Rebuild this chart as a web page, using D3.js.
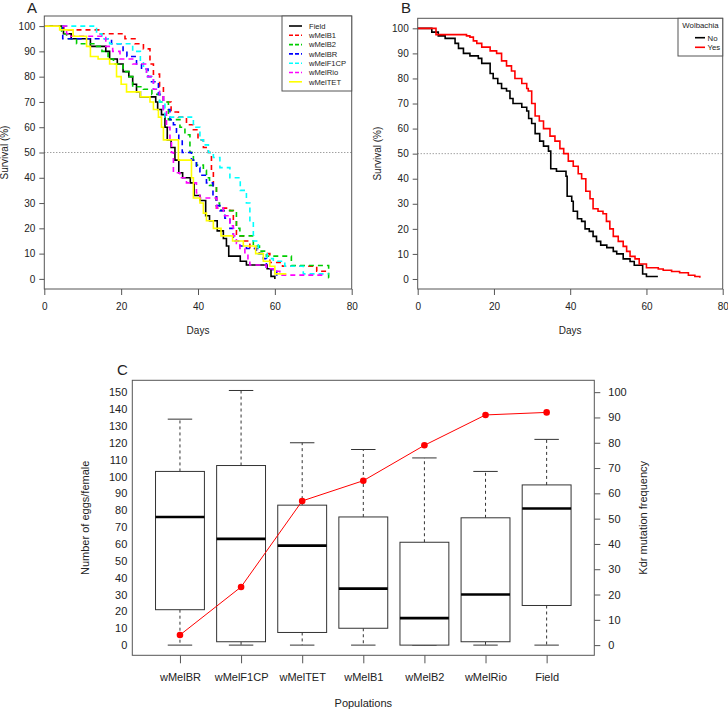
<!DOCTYPE html>
<html><head><meta charset="utf-8">
<script src="https://cdn.jsdelivr.net/npm/d3@7"></script>
<style>
body{margin:0;background:#fff;}
svg{display:block;font-family:"Liberation Sans",Arial,sans-serif;}
</style></head><body>
<svg id="c" width="728" height="710"></svg>
<script>
// ---------- DATA ----------
// Panel A: Kaplan-Meier steps [day, survival %]
const seriesNames = ["Field","wMelB1","wMelB2","wMelBR","wMelF1CP","wMelRio","wMelTET"];
const seriesColors = ["#000000","#FF0000","#00CD00","#0000FF","#00FFFF","#FF00FF","#FFFF00"];
const seriesDashed = [false,true,true,true,true,true,false];
const survField = [[0,100],[5,97],[7,95],[12,92],[16,90],[17,87],[19,85],[20.5,82],[22,80],[23,77],[24,74],[25,72],[29,70],[29.5,67],[30.5,65],[31.4,60],[32,55],[33,52],[34,47],[35,42],[36,40],[38,38],[39,33],[40.5,31],[42,25],[43,23],[45,19],[46.6,16],[47.4,13],[48,9],[51,7],[52.6,5.5],[58,4],[59,1],[60,0]];
const survB1 = [[0,100],[5,98.5],[14.5,97],[21,95],[23.6,93],[25.8,91],[27.5,85],[28.4,81],[30,76],[31,70],[33,66],[34.9,64],[37,61],[38.8,59],[40,55],[41.4,52],[42.7,50],[43.5,43],[44,37],[44.8,28],[48.3,27],[49.2,23],[50,17],[51.8,15],[53.5,12],[56,10],[58.7,6.5],[62,5],[70.9,3],[74.3,3]];
const survB2 = [[0,100],[4.5,97],[5.8,95],[8.4,93],[13.6,92],[15,90],[16.6,87],[18,85],[20.5,82],[22,80],[23,76],[25.8,75],[28,73],[30,70],[32.3,63],[35.3,60],[36.6,57],[37.9,50],[38.8,47],[39.6,45],[41.4,43],[42.2,40],[43,37],[44.8,30],[45.6,28],[46,27],[50,20],[50.9,17],[54.4,13],[56,11],[57.8,9],[64.3,5.3],[74,0.5],[74.2,0.5]];
const survBR = [[0,100],[4.8,95],[17.5,93],[20.5,90],[21.5,88],[24,85],[25.3,83],[27,80],[27.9,78],[29.7,73],[31,67],[32.7,63],[33.6,61],[34.4,58],[35,55],[35.9,50],[38.3,47],[39.6,44],[40.5,41],[42.2,38],[43.9,33],[44.8,29],[45.7,27],[47,24],[48.3,20],[49.2,15],[50.9,13],[52.6,12],[55.2,10],[57,8],[57.8,4],[59.5,3],[60.5,1],[60.7,1]];
const survF1CP = [[0,100],[13.6,97],[15,95],[17,93],[23,90],[25,86],[25.8,83],[26.6,80],[28.4,75],[30,70],[31.4,64],[38.8,60],[40.5,55],[41.4,53],[42.7,50],[44,48],[45.7,44],[48.3,40],[51,35],[52.6,30],[53.5,23],[54.4,15],[55.7,10],[58,8],[59.6,7],[62.6,5],[67.4,2],[74,2]];
const survRio = [[0,100],[5.8,97],[6.5,96],[16,92],[17.8,90],[19.7,87],[23,85],[26.6,80],[28.4,75],[30,72],[31,67],[31.8,60],[32.7,55],[33.1,50],[33.6,42],[35.3,40],[37,38],[39.6,34],[40.5,32],[44.9,28],[46.6,25],[48.3,21],[49.2,17],[50,14],[50.9,12],[52.2,10],[53,8],[53.5,5.5],[57,5.5],[57.8,4],[59.6,3],[61.3,1.5],[73,1.5]];
const survTET = [[0,100],[4,98.5],[7.5,96],[11,92],[12,88],[14,87],[17,85],[18.8,80],[20,77],[21.4,74],[25,72],[27.5,70],[28.4,67],[29.7,64],[30.5,60],[31,55],[34.9,47],[38.3,40],[38.8,32],[40.5,30],[41.4,26],[42.2,23],[44,20],[46,17],[49,15],[51.8,13],[55,10],[57,7],[58.7,5],[60,2],[63,2]];
const survA = [survField,survB1,survB2,survBR,survF1CP,survRio,survTET];

// Panel B
const wolbNames = ["No","Yes"];
const wolbColors = ["#000000","#FF0000"];
const survNo = [[0,100],[3.7,98.5],[5.4,97],[7.2,96],[9.8,94],[10.7,92],[12,90],[13.7,89],[15.9,88],[16.8,86],[19,82],[19.8,80],[21,78],[22,76],[23.3,75],[24.2,72],[25,70],[27.3,68.5],[28.6,67],[29.1,64],[29.9,62],[30.8,58],[32,55],[33,53],[34.3,51],[34.9,44],[36.4,43],[38.9,41],[39.2,33],[40.4,31],[40.8,27],[41.9,24],[43,23],[43.9,20],[45,19],[46,17],[46.9,15],[48,13.5],[49.6,12.5],[51.3,11],[52.2,10],[53.9,8],[55.7,7],[56.8,5.5],[59,2],[60,1],[63,1]];
const survYes = [[0,100],[4.8,97.5],[12.8,97],[13.7,96.5],[14.6,95],[15.5,94],[16.8,92.5],[19,91],[20.7,90],[22,87],[23.3,85],[24.6,83],[25.5,80],[27.3,78],[28.6,76],[29,75],[29.9,70],[30.8,65],[31.9,63],[33,60],[34.7,57],[36,55],[37.3,52],[38.3,50],[39.5,47],[40.8,45],[42.1,42],[43,40],[44.1,35],[45.2,32],[46,28],[47.3,27],[48.6,26],[49.5,23],[50.4,20],[51.3,17],[52.6,15],[53.9,13],[54.8,11],[55.7,9],[57,8],[58.1,6],[60,4.5],[63.1,4],[64.4,3.5],[66.6,3],[68.7,2.5],[71,1.5],[72.7,1],[74,0.5]];
const survB = [survNo,survYes];

const dayTicks = [0,20,40,60,80];
const survTicks = [0,10,20,30,40,50,60,70,80,90,100];

// Panel C
const categories = ["wMelBR","wMelF1CP","wMelTET","wMelB1","wMelB2","wMelRio","Field"];
const eggMin = [0,0,0,0,0,0,0];
const eggQ1 = [21,2,7.5,10,0,2,23.5];
const eggMedian = [76,63,59,33.5,16,30,81];
const eggQ3 = [103,106.5,83,76,61,75.5,95];
const eggMax = [134,151,120,116,111,103,122];
const kdrFreq = [4,23,57,65,79,91,92];
const eggTicks = d3.range(0,151,10);
const kdrTicks = d3.range(0,101,10);

// ---------- DRAW ----------
const svg = d3.select("#c");
const TXT = "#222", BOX = "#555";

function survPanel(o){
  const g = svg.append("g");
  const x = d3.scaleLinear().domain([0,80]).range([o.left,o.right]);
  const y = d3.scaleLinear().domain([-4,104]).range([o.bottom,o.top]);
  const ax = g.append("g").attr("transform",`translate(0,${o.bottom})`)
    .call(d3.axisBottom(x).tickValues(dayTicks).tickSize(6).tickPadding(8));
  const ay = g.append("g").attr("transform",`translate(${o.left},0)`)
    .call(d3.axisLeft(y).tickValues(survTicks).tickSize(5).tickPadding(4));
  [ax,ay].forEach(a=>{a.select(".domain").remove();a.selectAll("line").attr("stroke",BOX);
    a.selectAll("text").attr("fill",TXT).attr("font-size",10).attr("font-family","Liberation Sans, Arial");});
  g.append("line").attr("x1",o.left).attr("x2",o.right).attr("y1",y(50)).attr("y2",y(50))
    .attr("stroke","#555").attr("stroke-width",0.8).attr("stroke-dasharray","1,2");
  const line = d3.line().x(d=>x(d[0])).y(d=>y(d[1])).curve(d3.curveStepAfter);
  o.data.forEach((s,i)=>{
    g.append("path").attr("d",line(s)).attr("fill","none").attr("stroke",o.colors[i])
      .attr("stroke-width",1.6).attr("stroke-dasharray",o.dashed&&o.dashed[i]?"5,4":null);
  });
  g.append("rect").attr("x",o.left).attr("y",o.top).attr("width",o.right-o.left).attr("height",o.bottom-o.top)
    .attr("fill","none").attr("stroke",BOX).attr("stroke-width",1);
  g.append("text").attr("x",(o.left+o.right)/2).attr("y",o.bottom+45).attr("text-anchor","middle")
    .attr("font-size",10).attr("fill",TXT).text("Days");
  g.append("text").attr("transform",`translate(${o.ylabX},${(o.top+o.bottom)/2}) rotate(-90)`)
    .attr("text-anchor","middle").attr("font-size",10).attr("fill",TXT).text("Survival (%)");
  g.append("text").attr("x",o.labX).attr("y",13).attr("font-size",15).attr("fill",TXT).text(o.label);
  return {g,x,y};
}

// Panel A
const A = survPanel({left:44.3,right:351.7,top:16,bottom:289,data:survA,colors:seriesColors,dashed:seriesDashed,ylabX:8,labX:27,label:"A"});
{
  const lg = A.g.append("g");
  lg.append("rect").attr("x",282).attr("y",16).attr("width",69.7).attr("height",75).attr("fill","#fff").attr("stroke",BOX);
  seriesNames.forEach((n,i)=>{
    const yy = 26 + i*9.3;
    lg.append("line").attr("x1",289).attr("x2",302).attr("y1",yy).attr("y2",yy).attr("stroke",seriesColors[i])
      .attr("stroke-width",1.6).attr("stroke-dasharray",seriesDashed[i]?"4,2":null);
    lg.append("text").attr("x",309).attr("y",yy+2.8).attr("font-size",7.6).attr("fill",TXT).text(n);
  });
}
// Panel B
const B = survPanel({left:417.7,right:722.7,top:18.3,bottom:289,data:survB,colors:wolbColors,dashed:null,ylabX:381,labX:401,label:"B"});
{
  const lg = B.g.append("g");
  lg.append("rect").attr("x",678).attr("y",18.3).attr("width",44.7).attr("height",37.7).attr("fill","#fff").attr("stroke",BOX);
  lg.append("text").attr("x",700.5).attr("y",28).attr("text-anchor","middle").attr("font-size",7.8).attr("fill",TXT).text("Wolbachia");
  wolbNames.forEach((n,i)=>{
    const yy = 37.7 + i*9.6;
    lg.append("line").attr("x1",695).attr("x2",705).attr("y1",yy).attr("y2",yy).attr("stroke",wolbColors[i]).attr("stroke-width",1.6);
    lg.append("text").attr("x",707.5).attr("y",yy+2.8).attr("font-size",7.8).attr("fill",TXT).text(n);
  });
}

// Panel C
{
  const L=132.3,R=594.3,T=380.3,Bm=655.3;
  const g = svg.append("g");
  const x = d3.scaleLinear().domain([0.22,7.78]).range([L,R]);
  const yL = d3.scaleLinear().domain([-6.04,157.04]).range([Bm,T]);
  const yR = d3.scaleLinear().domain([-6.04/1.5,157.04/1.5]).range([Bm,T]);
  const ax = g.append("g").attr("transform",`translate(0,${Bm})`)
    .call(d3.axisBottom(x).tickValues(d3.range(1,8)).tickFormat(i=>categories[i-1]).tickSize(8).tickPadding(10));
  const ayl = g.append("g").attr("transform",`translate(${L},0)`)
    .call(d3.axisLeft(yL).tickValues(eggTicks).tickSize(0).tickPadding(5));
  const ayr = g.append("g").attr("transform",`translate(${R},0)`)
    .call(d3.axisRight(yR).tickValues(kdrTicks).tickSize(6).tickPadding(8));
  [ax,ayl,ayr].forEach(a=>{a.select(".domain").remove();a.selectAll("line").attr("stroke",BOX);
    a.selectAll("text").attr("fill",TXT).attr("font-size",11).attr("font-family","Liberation Sans, Arial");});
  const hw = x(1.4)-x(1), cw = x(1.2)-x(1);
  categories.forEach((c,i)=>{
    const cx = x(i+1);
    g.append("line").attr("x1",cx).attr("x2",cx).attr("y1",yL(eggQ3[i])).attr("y2",yL(eggMax[i]))
      .attr("stroke","#333").attr("stroke-dasharray","3,3");
    g.append("line").attr("x1",cx).attr("x2",cx).attr("y1",yL(eggQ1[i])).attr("y2",yL(eggMin[i]))
      .attr("stroke","#333").attr("stroke-dasharray","3,3");
    g.append("line").attr("x1",cx-cw).attr("x2",cx+cw).attr("y1",yL(eggMax[i])).attr("y2",yL(eggMax[i])).attr("stroke","#333");
    g.append("line").attr("x1",cx-cw).attr("x2",cx+cw).attr("y1",yL(eggMin[i])).attr("y2",yL(eggMin[i])).attr("stroke","#333");
    g.append("rect").attr("x",cx-hw).attr("width",2*hw).attr("y",yL(eggQ3[i])).attr("height",yL(eggQ1[i])-yL(eggQ3[i]))
      .attr("fill","#fff").attr("stroke","#333");
    g.append("line").attr("x1",cx-hw).attr("x2",cx+hw).attr("y1",yL(eggMedian[i])).attr("y2",yL(eggMedian[i]))
      .attr("stroke","#000").attr("stroke-width",2.6);
  });
  const kl = d3.line().x((d,i)=>x(i+1)).y(d=>yR(d));
  g.append("path").attr("d",kl(kdrFreq)).attr("fill","none").attr("stroke","#FF0000").attr("stroke-width",1);
  g.selectAll("circle.k").data(kdrFreq).join("circle").attr("cx",(d,i)=>x(i+1)).attr("cy",d=>yR(d)).attr("r",3.3).attr("fill","#FF0000");
  g.append("rect").attr("x",L).attr("y",T).attr("width",R-L).attr("height",Bm-T).attr("fill","none").attr("stroke",BOX);
  g.append("text").attr("x",(L+R)/2).attr("y",707).attr("text-anchor","middle").attr("font-size",11).attr("fill",TXT).text("Populations");
  g.append("text").attr("transform",`translate(89,${(T+Bm)/2}) rotate(-90)`).attr("text-anchor","middle").attr("font-size",11).attr("fill",TXT).text("Number of eggs/female");
  g.append("text").attr("transform",`translate(647,${(T+Bm)/2}) rotate(-90)`).attr("text-anchor","middle").attr("font-size",11).attr("fill",TXT).text("Kdr mutation frequency");
  g.append("text").attr("x",117).attr("y",375).attr("font-size",15).attr("fill",TXT).text("C");
}
</script>
</body></html>
